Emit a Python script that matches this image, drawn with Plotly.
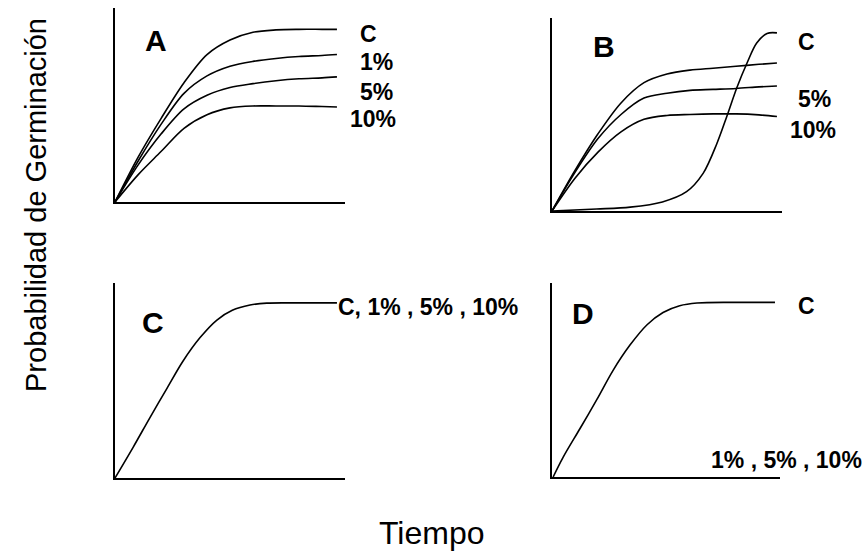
import plotly.graph_objects as go

W, H = 863, 554

# ---- data (time units 0-10, probability 0-100) ----
A_t = [0, 1, 2, 3, 4, 5, 6, 7, 8, 9, 9.65]
A_C = [0, 23, 43, 61.5, 76, 83.5, 87.5, 88.7, 89, 89, 89]
A_1 = [0, 21, 40, 56, 65, 70, 72.5, 74, 75, 75.5, 76]
A_5 = [0, 19, 35, 48, 55, 59, 61, 62.5, 63.5, 64, 64.5]
A_10 = [0, 14, 26, 38, 45, 48.5, 49.5, 49.5, 49.5, 49.2, 49]

B_t = [0, 1, 2, 3, 4, 5, 6, 7, 8, 9, 9.78]
B_1 = [0, 21, 40, 56, 66.5, 71, 73, 74, 75, 76, 76.7]
B_5 = [0, 20, 37.5, 50, 58.5, 61, 62.5, 63, 63.5, 64.3, 64.8]
B_10 = [0, 17, 30.5, 41, 47.5, 49.5, 50, 50.3, 50.3, 49.8, 49]
B_Ct = [0, 1.94, 3.4, 4.8, 5.85, 6.57, 7.17, 7.6, 8.04, 8.48, 8.9, 9.35, 9.78]
B_C = [0, 1, 2, 4.7, 10, 19.5, 35, 49, 64, 76.7, 87, 92, 92.3]

C_t = [0, 0.8, 1.52, 2.26, 2.96, 3.7, 4.43, 5.1, 5.87, 6.6, 8, 9.65]
C_all = [0, 16, 31, 46, 60, 72, 81, 86, 88.7, 89.7, 89.8, 89.8]

D_t = [0.05, 0.48, 1.23, 1.97, 2.68, 3.42, 4.17, 4.87, 5.6, 6.36, 8, 9.78]
D_C = [0, 10, 25, 40, 55, 68, 78.5, 84.8, 88.3, 89.7, 90, 90]

panel_letters = ["A", "B", "C", "D"]

FONT = "Liberation Sans, Arial, Helvetica, sans-serif"


def fx(px):
    return px / W


def fy(py):
    return 1 - py / H


fig = go.Figure()

line = dict(color="black", width=1.6, shape="spline", smoothing=0.9)

series = [
    ("x", "y", A_t, A_C), ("x", "y", A_t, A_1), ("x", "y", A_t, A_5), ("x", "y", A_t, A_10),
    ("x2", "y2", B_t, B_1), ("x2", "y2", B_t, B_5), ("x2", "y2", B_t, B_10), ("x2", "y2", B_Ct, B_C),
    ("x3", "y3", C_t, C_all),
    ("x4", "y4", D_t, D_C),
]
for xa, ya, xs, ys in series:
    fig.add_trace(go.Scatter(x=xs, y=ys, xaxis=xa, yaxis=ya, mode="lines",
                             line=line, showlegend=False, hoverinfo="skip"))

# axis domains in pixels: (x0, x1, ytop, ybottom)
doms = [(115, 345, 8, 202), (552, 782, 18, 211), (115, 345, 283, 478), (552, 780, 283, 477)]
layout_axes = {}
for i, (x0, x1, yt, yb) in enumerate(doms):
    sfx = "" if i == 0 else str(i + 1)
    common = dict(showline=True, linecolor="black", linewidth=2, showgrid=False,
                  zeroline=False, showticklabels=False, ticks="", fixedrange=True)
    layout_axes["xaxis" + sfx] = dict(domain=[fx(x0), fx(x1)], range=[0, 10],
                                       anchor="y" + sfx, **common)
    layout_axes["yaxis" + sfx] = dict(domain=[fy(yb), fy(yt)], range=[0, 100],
                                       anchor="x" + sfx, **common)

ann = []


def add_text(text, px, py, size, bold=True, xanchor="left", angle=0):
    ann.append(dict(text=("<b>%s</b>" % text) if bold else text, x=fx(px), y=fy(py),
                    xref="paper", yref="paper", xanchor=xanchor, yanchor="middle",
                    showarrow=False, textangle=angle,
                    font=dict(family=FONT, size=size, color="black")))


# panel letters
for letter, (px, py) in zip(panel_letters, [(156, 40), (604, 47), (153, 322), (583, 313)]):
    add_text(letter, px, py, 30, xanchor="center")

# series labels
add_text("C", 358, 34, 23)
add_text("1%", 358, 62, 23)
add_text("5%", 358, 92, 23)
add_text("10%", 348, 119, 23)

add_text("C", 796, 42, 23)
add_text("5%", 796, 99, 23)
add_text("10%", 788, 130, 23)

add_text("C, 1% , 5% , 10%", 336, 307, 23)
add_text("C", 796, 306, 23)
add_text("1% , 5% , 10%", 709, 460, 23)

# axis titles
add_text("Probabilidad de Germinación", 36, 205, 29, bold=False, xanchor="center", angle=-90)
add_text("Tiempo", 432, 533, 32, bold=False, xanchor="center")

fig.update_layout(width=W, height=H, margin=dict(l=0, r=0, t=0, b=0),
                  paper_bgcolor="white", plot_bgcolor="white",
                  annotations=ann, **layout_axes)

fig.write_html("out.html")
